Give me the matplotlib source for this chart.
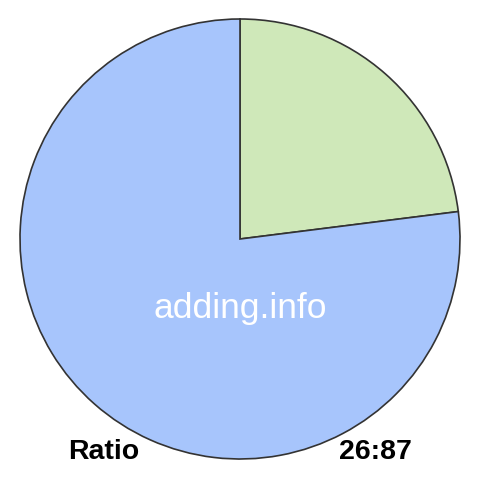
import matplotlib.pyplot as plt

labels = ["26", "87"]
values = [26, 87]
colors = ["#cfe8b9", "#a7c5fc"]
ratio_label = "Ratio"
ratio_text = "26:87"
watermark = "adding.info"

fig = plt.figure(figsize=(4.8, 4.8), dpi=100)
ax = fig.add_axes([0, 0, 1, 1])

ax.pie(values, colors=colors, startangle=90, counterclock=False,
       center=(240, 241), radius=220,
       wedgeprops=dict(edgecolor="#333333", linewidth=1.2))
ax.set_xlim(0, 480)
ax.set_ylim(0, 480)
ax.set_aspect("equal")
ax.axis("off")

ax.text(240, 162, watermark, ha="center", va="baseline", color="white",
        fontsize=25.5, family="Liberation Sans")
ax.text(104, 21, ratio_label, ha="center", va="baseline", color="black",
        fontsize=20.5, fontweight="bold", family="Liberation Sans")
ax.text(375, 21, ratio_text, ha="center", va="baseline", color="black",
        fontsize=20.5, fontweight="bold", family="Liberation Sans")

fig.savefig("out.png", dpi=100)
